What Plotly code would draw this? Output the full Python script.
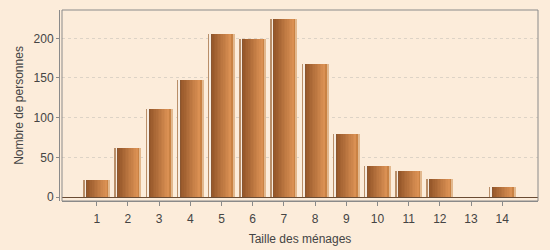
import plotly.graph_objects as go

# Data
household_size = [1, 2, 3, 4, 5, 6, 7, 8, 9, 10, 11, 12, 13, 14]
persons = [22, 62, 111, 148, 205, 199, 224, 168, 80, 39, 33, 23, 0, 13]
tick_labels = [str(v) for v in household_size]

BG = "#fcecda"
TXT = "#444444"

# x scale: px per data unit
PX = 31.19
BAR_PX = 26.0

def hexmix(c1, c2, t):
    a = [int(c1[i:i + 2], 16) for i in (1, 3, 5)]
    b = [int(c2[i:i + 2], 16) for i in (1, 3, 5)]
    return "#" + "".join(f"{round(a[k] + (b[k] - a[k]) * t):02x}" for k in range(3))

# slice definitions in pixels from bar left edge: (start, end, color)
slices = [(0, 1, "#b98e68"), (1, 3, "#f7ede2"), (3, 4, "#8a5630")]
n = 12
g0, g1 = 4.0, 23.0
for i in range(n):
    s = g0 + (g1 - g0) * i / n
    e = g0 + (g1 - g0) * (i + 1) / n
    t = i / (n - 1)
    slices.append((s, e, hexmix("#98592b", "#da9053", t)))
slices.append((23, 25, "#c98244"))
slices.append((25, 26, "#e2b88e"))

fig = go.Figure()
for s, e, col in slices:
    fig.add_trace(go.Bar(
        x=household_size, y=persons,
        width=(e - s) / PX,
        offset=(s - BAR_PX / 2) / PX,
        marker=dict(color=col, line=dict(width=0)),
        hoverinfo="skip", showlegend=False,
    ))

fig.update_layout(
    width=550, height=250,
    margin=dict(l=59, r=12, t=10, b=49),
    paper_bgcolor=BG, plot_bgcolor=BG,
    barmode="overlay", bargap=0,
    font=dict(family="Liberation Sans, Arial, sans-serif", size=12, color=TXT),
    xaxis=dict(
        domain=[3 / 479, 1],
        range=[-0.113, 15.148],
        tickmode="array", tickvals=household_size, ticktext=tick_labels,
        showgrid=False, zeroline=False,
        showline=True, linecolor="#8a8a8a", linewidth=1,
        ticks="outside", ticklen=4, tickcolor="#8a8a8a",
        ticklabelstandoff=3, automargin=False,
        title=dict(text="Taille des ménages", standoff=9, font=dict(size=12, color=TXT)),
        fixedrange=True,
    ),
    yaxis=dict(
        anchor="free", position=0, automargin=False,
        range=[-5.04, 235.7],
        tickvals=[0, 50, 100, 150, 200],
        showgrid=True, gridcolor="#ddd3c6", griddash="3px,3px", gridwidth=1,
        zeroline=True, zerolinecolor="#6a4c34", zerolinewidth=1,
        showline=True, linecolor="#8a8a8a", linewidth=1,
        ticks="outside", ticklen=3, tickcolor="#8a8a8a",
        title=dict(text="Nombre de personnes", standoff=6, font=dict(size=12, color=TXT)),
        fixedrange=True,
    ),
    shapes=[dict(type="rect", xref="x domain", yref="y domain",
                 x0=0, x1=1, y0=0, y1=1,
                 line=dict(color="#8a8a8a", width=1), layer="above")],
)

fig.write_html("out.html")
